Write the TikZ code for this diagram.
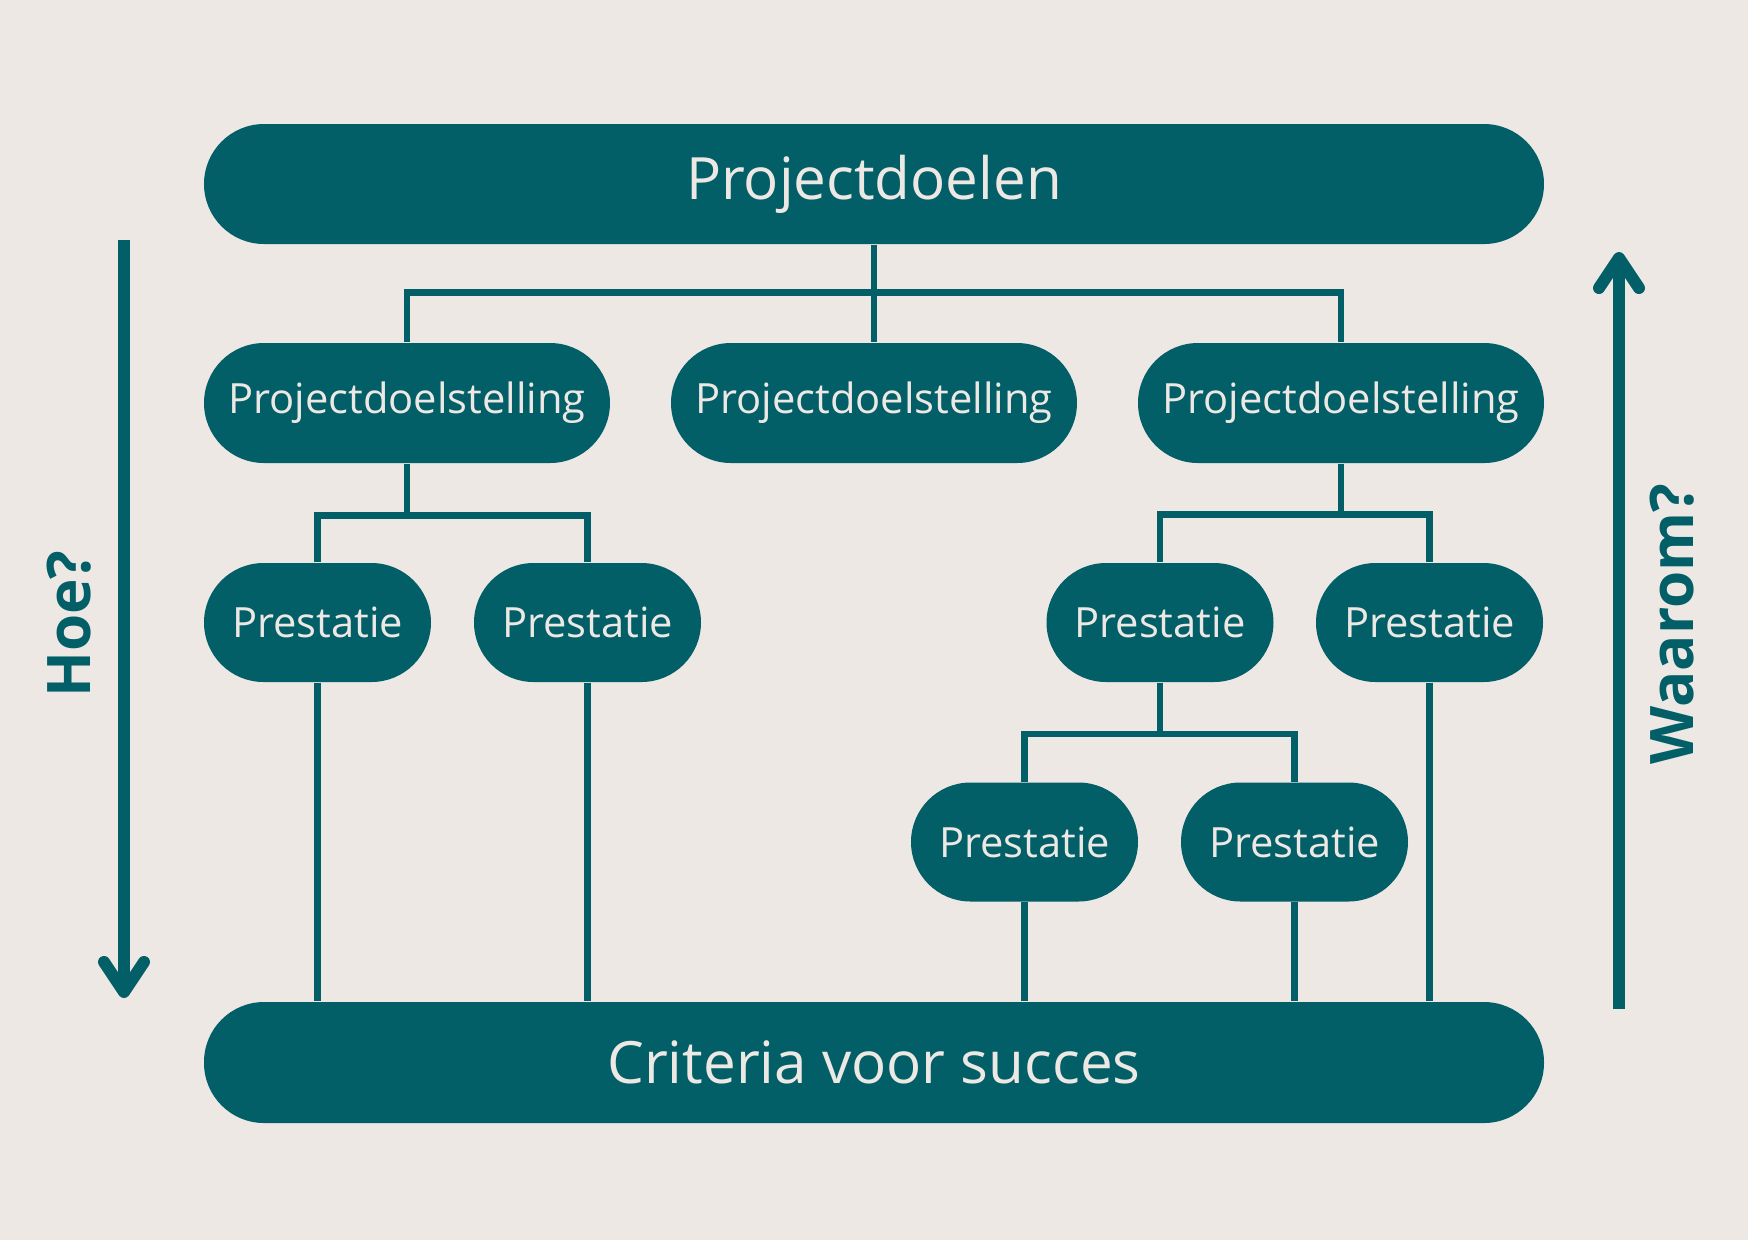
\documentclass[tikz,border=0pt]{standalone}
\usepackage{fontspec}
\setmainfont{Open Sans}
\usepackage{xcolor}
\usepackage{tikz}
\usetikzlibrary{arrows.meta}
\definecolor{teal}{HTML}{025F68}
\definecolor{paper}{HTML}{EDE8E4}

\begin{document}
\begin{tikzpicture}[
  box/.style={fill=teal, text=paper, rounded corners=0.595cm, minimum height=1.19cm, inner sep=0pt},
  bigbox/.style={box, minimum width=13.40cm, minimum height=1.20cm, rounded corners=0.6cm, font=\fontsize{16.6}{20}\selectfont},
  goalbox/.style={box, minimum width=4.06cm, minimum height=1.20cm, rounded corners=0.6cm, font=\fontsize{11.85}{14}\selectfont},
  perfbox/.style={box, minimum width=2.27cm, font=\fontsize{11.85}{14}\selectfont},
  link/.style={draw=teal, line width=0.065cm},
  arrowline/.style={draw=teal, line width=0.12cm, -{Straight Barb[length=0.3cm, width=0.40cm, round]}},
  side/.style={text=teal, font=\fontsize{17.1}{20}\selectfont\bfseries, rotate=90}
]
\fill[paper] (0,0) rectangle (17.48,-12.40);
\useasboundingbox (0,0) rectangle (17.48,-12.40);

\node[bigbox] (goals) at (8.74,-1.84) {Projectdoelen};
\node[goalbox] (aim1) at (4.07,-4.03) {Projectdoelstelling};
\node[goalbox] (aim2) at (8.74,-4.03) {Projectdoelstelling};
\node[goalbox] (aim3) at (13.41,-4.03) {Projectdoelstelling};
\node[perfbox] (perf1) at (3.175,-6.225) {Prestatie};
\node[perfbox] (perf2) at (5.875,-6.225) {Prestatie};
\node[perfbox] (perf3) at (11.60,-6.225) {Prestatie};
\node[perfbox] (perf4) at (14.295,-6.225) {Prestatie};
\node[perfbox] (perf5) at (10.245,-8.42) {Prestatie};
\node[perfbox] (perf6) at (12.945,-8.42) {Prestatie};
\node[bigbox, minimum height=1.21cm] (crit) at (8.74,-10.625) {Criteria voor succes};

\draw[link] (goals) -- (aim2);
\draw[link] (aim1.north) -- ++(0,0.5) -| (aim3.north);
\draw[link] (aim1.south) -- ++(0,-0.53);
\draw[link] (perf1.north) -- ++(0,0.47) -| (perf2.north);
\draw[link] (aim3.south) -- ++(0,-0.52);
\draw[link] (perf3.north) -- ++(0,0.48) -| (perf4.north);
\draw[link] (perf3.south) -- ++(0,-0.53);
\draw[link] (perf5.north) -- ++(0,0.48) -| (perf6.north);
\draw[link] (perf1.south) -- (perf1.south |- crit.north);
\draw[link] (perf2.south) -- (perf2.south |- crit.north);
\draw[link] (perf4.south) -- (perf4.south |- crit.north);
\draw[link] (perf5.south) -- (perf5.south |- crit.north);
\draw[link] (perf6.south) -- (perf6.south |- crit.north);

\coordinate (howtop) at (1.24,-2.40);
\coordinate (howend) at (1.24,-9.98);
\coordinate (whybot) at (16.19,-10.09);
\coordinate (whyend) at (16.19,-2.52);
\draw[arrowline] (howtop) -- (howend);
\draw[arrowline] (whybot) -- (whyend);
\node[side] (how) at (0.69,-6.24) {Hoe?};
\node[side] (why) at (16.72,-6.24) {Waarom?};
\end{tikzpicture}
\end{document}
